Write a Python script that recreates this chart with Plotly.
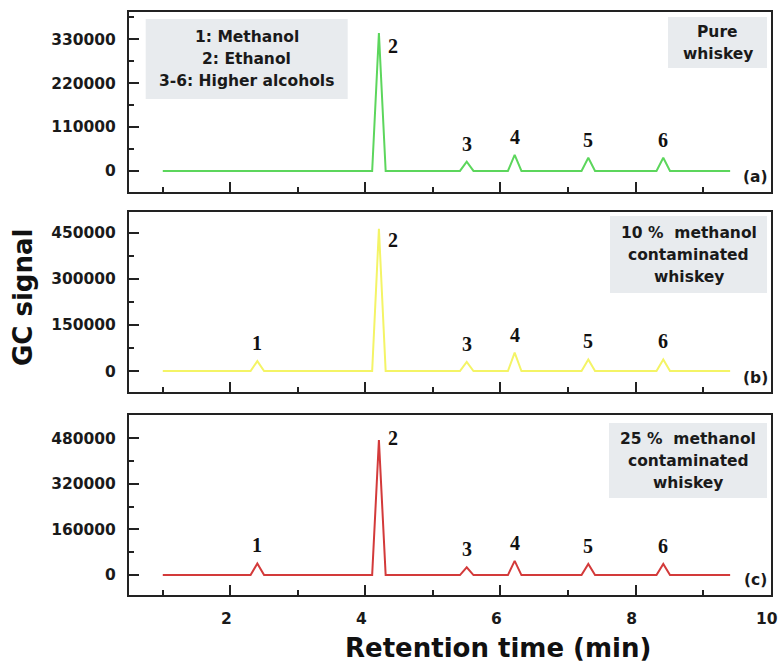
import plotly.graph_objects as go

# ---------------- data ----------------
retention_times = [2.4, 4.2, 5.5, 6.21, 7.3, 8.41]
peak_labels = ["1", "2", "3", "4", "5", "6"]
pure_heights = [1500, 345000, 23000, 40000, 33000, 33000]
m10_heights = [32500, 462000, 30000, 60000, 38000, 38000]
m25_heights = [41000, 474000, 27000, 50000, 39000, 39000]
run_start, run_end = 1.0, 9.4
x_ticks = [2, 4, 6, 8, 10]
panel_letters = ["(a)", "(b)", "(c)"]
sample_names = [["Pure", "whiskey"],
                ["10 %  methanol", "contaminated", "whiskey"],
                ["25 %  methanol", "contaminated", "whiskey"]]
legend_lines = ["1: Methanol", "2: Ethanol", "3-6: Higher alcohols"]
y_ticks = [[0, 110000, 220000, 330000],
           [0, 150000, 300000, 450000],
           [0, 160000, 320000, 480000]]
y_ranges = [[-52000, 398000], [-67000, 517000], [-70000, 562000]]
labelled = [[1, 2, 3, 4, 5], [0, 1, 2, 3, 4, 5], [0, 1, 2, 3, 4, 5]]

# ---------------- style ----------------
W, H = 778, 665
L, R = 129, 771
colors = ["#5cd65c", "#f4f466", "#d33a3a"]
half_w = 0.1
panel_px = [(12, 191.7), (212, 391.7), (415, 595)]
big_label_yshift = [-13, -11, 2]
sans = "DejaVu Sans"
serif = "Liberation Serif"
line_gap = 22


def chrom(times, heights):
    xs, ys = [run_start], [0]
    for t, h in zip(times, heights):
        xs += [t - half_w, t, t + half_w]
        ys += [0, h, 0]
    xs.append(run_end)
    ys.append(0)
    return xs, ys


def py(p):
    return 1 - p / H


def px(p):
    return (p - L) / (R - L)


fig = go.Figure()
all_heights = [pure_heights, m10_heights, m25_heights]
axis_font = dict(family=sans, size=15.5, color="#1a1a1a", weight="bold")
C = dict(xanchor="center", yanchor="middle")

for i, hts in enumerate(all_heights):
    xs, ys = chrom(retention_times, hts)
    n = "" if i == 0 else str(i + 1)
    fig.add_trace(go.Scatter(x=xs, y=ys, mode="lines",
                             line=dict(color=colors[i], width=2),
                             xaxis="x" + n, yaxis="y" + n, showlegend=False,
                             hoverinfo="skip"))
    top, bot = panel_px[i]
    fig.layout["xaxis" + n] = dict(
        domain=[0, 1], range=[0.5, 10.005], anchor="y" + n, automargin=False,
        tickvals=x_ticks, showticklabels=(i == 2), ticklabelstandoff=8,
        ticklabelshift=-4, ticklabeloverflow="allow",
        ticks="inside", ticklen=10, tickwidth=1.5, tickcolor="#222",
        minor=dict(dtick=1, tick0=0, ticks="inside", ticklen=5, tickwidth=1.5, tickcolor="#222"),
        showline=True, linecolor="#222", linewidth=2, mirror=True,
        showgrid=False, zeroline=False, tickfont=axis_font)
    fig.layout["yaxis" + n] = dict(
        domain=[py(bot), py(top)], range=y_ranges[i], anchor="x" + n, automargin=False,
        tickvals=y_ticks[i], ticks="inside", ticklen=10, tickwidth=1.5, tickcolor="#222",
        ticklabelstandoff=8,
        minor=dict(dtick=y_ticks[i][1] / 2, tick0=0, ticks="inside", ticklen=5,
                   tickwidth=1.5, tickcolor="#222"),
        showline=True, linecolor="#222", linewidth=2, mirror=True,
        showgrid=False, zeroline=False, tickfont=axis_font, tickformat="d")
    # peak number labels
    for k in labelled[i]:
        if k == 1:
            fig.add_annotation(x=retention_times[k], y=hts[k], xref="x" + n, yref="y" + n,
                               text=peak_labels[k], showarrow=False, xshift=14,
                               yshift=big_label_yshift[i], **C,
                               font=dict(family=serif, size=20, color="#111", weight="bold"))
        else:
            fig.add_annotation(x=retention_times[k], y=hts[k], xref="x" + n, yref="y" + n,
                               text=peak_labels[k], showarrow=False, yshift=18, **C,
                               font=dict(family=serif, size=20, color="#111", weight="bold"))
    # panel letter
    fig.add_annotation(x=px(755), y=py([177, 378, 580][i]), xref="paper", yref="paper",
                       text=panel_letters[i], showarrow=False, **C,
                       font=dict(family=sans, size=15.5, color="#1a1a1a", weight="bold"))

box_bg = "#e8ebee"
boxes = [(668, 767, 17, 68, sample_names[0]),
         (610, 767, 216, 293, sample_names[1]),
         (609, 767, 423, 498, sample_names[2]),
         (145.7, 347.7, 19, 99, legend_lines)]
for x0, x1, y0, y1, lines in boxes:
    fig.add_shape(type="rect", xref="paper", yref="paper",
                  x0=px(x0), x1=px(x1), y0=py(y1), y1=py(y0),
                  fillcolor=box_bg, line=dict(width=0), layer="below")
    cy = (y0 + y1) / 2
    for j, txt in enumerate(lines):
        yy = cy + (j - (len(lines) - 1) / 2) * line_gap
        fig.add_annotation(x=px((x0 + x1) / 2), y=py(yy), xref="paper", yref="paper",
                           text=txt, showarrow=False, align="center", **C,
                           font=dict(family=sans, size=15.5, color="#1a1a1a", weight="bold"))

# axis titles
fig.add_annotation(x=px(498), y=py(648), xref="paper", yref="paper",
                   text="Retention time (min)", showarrow=False, **C,
                   font=dict(family=sans, size=26, color="#111", weight="bold"))
fig.add_annotation(x=px(23), y=py(298), xref="paper", yref="paper",
                   text="GC signal", showarrow=False, textangle=-90, **C,
                   font=dict(family=sans, size=26, color="#111", weight="bold"))

fig.update_layout(width=W, height=H, margin=dict(l=L, r=W - R, t=0, b=0, autoexpand=False),
                  plot_bgcolor="white", paper_bgcolor="white", showlegend=False)

fig.write_html("out.html")
